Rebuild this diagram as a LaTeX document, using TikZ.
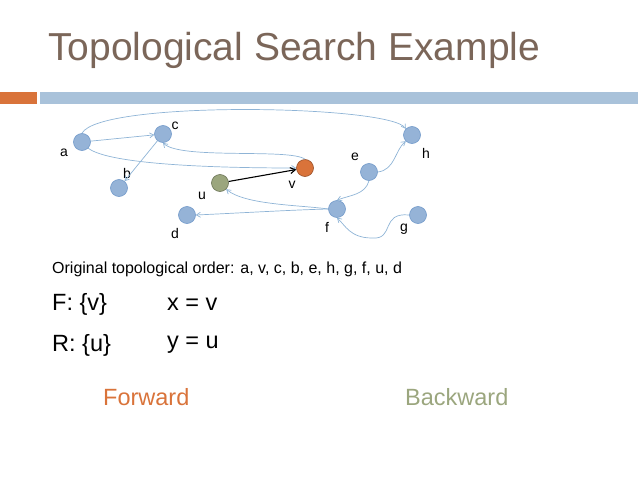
\documentclass[tikz,border=0pt]{standalone}
\usepackage{fontspec}
\setmainfont{Liberation Sans}
\usetikzlibrary{arrows.meta}
\definecolor{nodeblue}{HTML}{95B3D7}
\definecolor{nodeedge}{HTML}{4F81BD}
\definecolor{edgec}{HTML}{8FB4D6}
\definecolor{titlec}{HTML}{7B6659}
\definecolor{orangec}{HTML}{D9733A}
\definecolor{greenc}{HTML}{9BA67E}
\definecolor{barblue}{HTML}{A9C2DA}
\begin{document}
\begin{tikzpicture}[x=1pt,y=-1pt,
  vtx/.style={circle,minimum size=17pt,inner sep=0pt,fill=nodeblue,draw=nodeedge!80,line width=0.6pt},
  lbl/.style={font=\fontsize{14}{16}\selectfont},
  txt/.style={anchor=west,inner sep=0pt},
  big/.style={txt,font=\fontsize{23.5}{28}\selectfont},
  ed/.style={draw=edgec,line width=0.7pt,-{Straight Barb[length=4pt,width=5pt]}}]
\useasboundingbox (0,0) rectangle (638,479);
\node[txt,text=titlec,font=\fontsize{39}{44}\selectfont] (title) at (48,50) {Topological Search Example};
\fill[orangec] (0,92) rectangle (37,104);
\fill[barblue] (40,92) rectangle (638,104);
\node[vtx] (a) at (82,142) {};
\node[vtx] (c) at (163,134) {};
\node[vtx] (b) at (119,188) {};
\node[vtx,fill=greenc,draw=greenc!70!black] (u) at (220,183) {};
\node[vtx,fill=orangec,draw=orangec!70!black] (v) at (305,168) {};
\node[vtx] (d) at (187,215) {};
\node[vtx] (f) at (337,209) {};
\node[vtx] (e) at (369,172) {};
\node[vtx] (h) at (412,135) {};
\node[vtx] (g) at (418,215) {};
\node[lbl] at (64,153) {a};
\node[lbl] at (175,126) {c};
\node[lbl] at (127,173) {b};
\node[lbl] at (202,196) {u};
\node[lbl] at (292,185) {v};
\node[lbl] at (175,233) {d};
\node[lbl] at (327,227) {f};
\node[lbl] at (355,157) {e};
\node[lbl] at (426,153) {h};
\node[lbl] at (404,229) {g};
\draw[ed] (a) -- (c);
\draw[ed] (a.north) .. controls (100,100) and (390,105) .. (h.north west);
\draw[ed] (a.south east) .. controls (110,165) and (220,168) .. (v.west);
\draw[ed] (v.north) .. controls (290,148) and (180,160) .. (c.south);
\draw[ed] (c) -- (b);
\draw[black,line width=1.1pt,-{Straight Barb[length=5pt,width=6pt]}] (u) -- (v);
\draw[ed] (f.west) .. controls (300,205) and (245,205) .. (u.south east);
\draw[ed] (f.west) .. controls (290,210) and (240,213) .. (d.east);
\draw[ed] (e.south) .. controls (365,195) and (350,195) .. (f.north);
\draw[ed] (e.east) .. controls (395,170) and (395,150) .. (h.south west);
\draw[ed] (g.west) .. controls (380,212) and (395,240) .. (372,238) .. controls (350,238) and (345,225) .. (f.south);
\node[txt,font=\fontsize{16}{18}\selectfont] (orig) at (52,269) {Original topological order: a, v, c, b, e, h, g, f, u, d};
\node[big] (F) at (52,304) {F: \{v\}};
\node[big] (x) at (167,304) {x = v};
\node[big] (R) at (52,345) {R: \{u\}};
\node[big] (y) at (167,345) {y = u};
\node[big,text=orangec] (fw) at (103,397) {Forward};
\node[big,text=greenc] (bw) at (405,397) {Backward};
\end{tikzpicture}
\end{document}
